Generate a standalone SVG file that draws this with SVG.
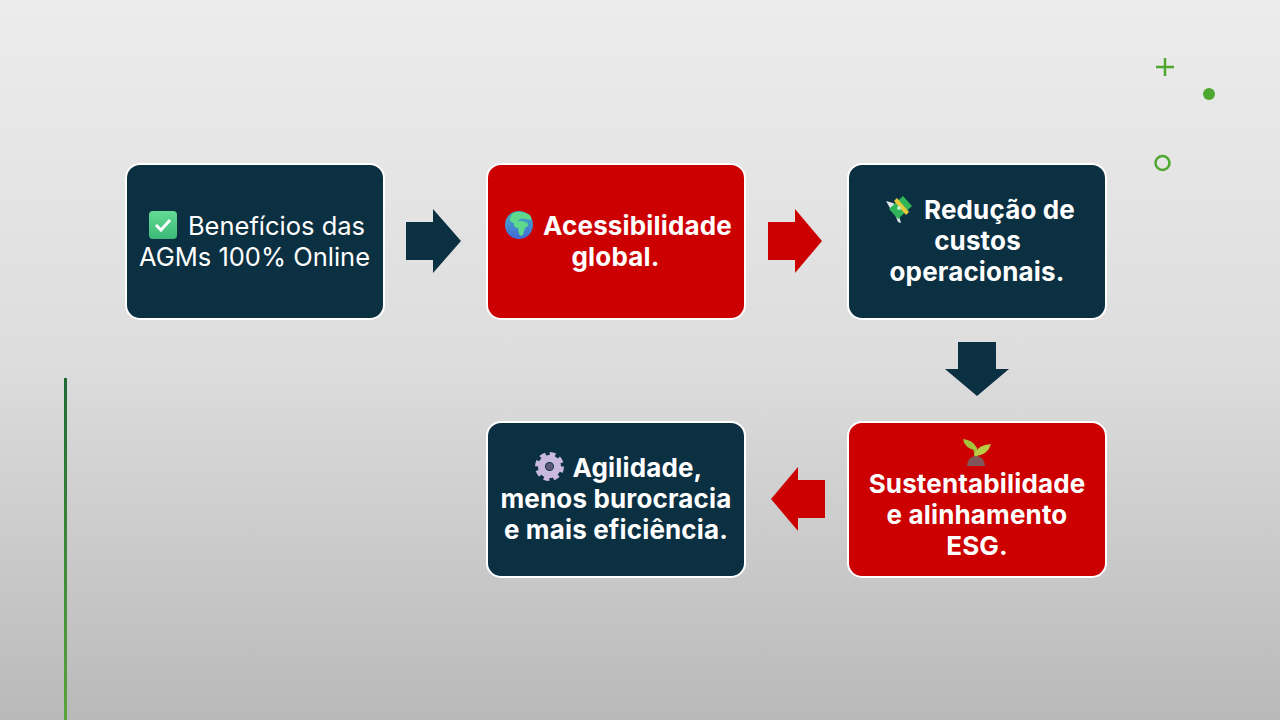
<svg xmlns="http://www.w3.org/2000/svg" width="1280" height="720" viewBox="0 0 1280 720">
<defs>
<linearGradient id="bg" x1="0" y1="0" x2="0" y2="1"><stop offset="0" stop-color="#ececec"/><stop offset="0.5" stop-color="#dddddd"/><stop offset="1" stop-color="#b9b9b9"/></linearGradient>
<linearGradient id="ln" x1="0" y1="0" x2="0" y2="1"><stop offset="0" stop-color="#1f6a35"/><stop offset="1" stop-color="#57a63c"/></linearGradient>
<linearGradient id="gl" x1="0" y1="0" x2="0" y2="1"><stop offset="0" stop-color="#3fb0c0"/><stop offset="1" stop-color="#4468d8"/></linearGradient>
<linearGradient id="ck" x1="0" y1="0" x2="0" y2="1"><stop offset="0" stop-color="#62dc94"/><stop offset="1" stop-color="#3cb878"/></linearGradient>
</defs>
<style>
.box{stroke:#fff;stroke-width:2}
.navy{fill:#0b3042}
.red{fill:#cc0000}
text{font-family:"Inter","Liberation Sans",sans-serif;fill:#fff;text-anchor:middle}
.b{font-weight:700;font-size:26px;letter-spacing:.15px}
.r{font-weight:400;font-size:25.500px}
.g{fill:#4ea72e}
</style>
<rect width="1280" height="720" fill="url(#bg)"/>
<g id="decor">
<rect x="64" y="378" width="3" height="342" fill="url(#ln)"/>
<path d="M1165 58v18M1156 67h18" stroke="#4ea72e" stroke-width="2.500" fill="none"/>
<circle cx="1209" cy="94" r="6" class="g"/>
<circle cx="1162.500" cy="163" r="7" fill="none" stroke="#4ea72e" stroke-width="2.500"/>
</g>
<g id="connectors">
<polygon class="navy" points="406,222 433,222 433,209 461,241 433,273 433,260 406,260"/>
<polygon class="red" points="768,222 795,222 795,209 822,241 795,273 795,260 768,260"/>
<polygon class="navy" points="958,342 996,342 996,369 1009,369 977,396 945,369 958,369"/>
<polygon class="red" points="825,480 798,480 798,467 771,499 798,531 798,518 825,518"/>
</g>
<g id="node1">
<rect class="box navy" x="126" y="164" width="258" height="155" rx="14"/>
<rect x="149" y="211" width="28" height="28" rx="4" fill="url(#ck)"/>
<path d="M156 225l5 5 9-10" fill="none" stroke="#fff" stroke-width="3"/>
<text class="r" x="276.500" y="235">Benefícios das</text>
<text class="r" x="254.500" y="266">AGMs 100% Online</text>
</g>
<g id="node2">
<rect class="box red" x="487" y="164" width="258" height="155" rx="14"/>
<circle cx="519" cy="225" r="14" fill="url(#gl)"/>
<path d="M513 213q8-3 17 2q2 3 1 5l-5-1q-7-2-8 3l-5 1q-4-2-3-5z" fill="#5ed88c"/>
<path d="M514 222q7-2 11 0q4 1 3 4l-3 2-2 7q-3 2-4-1l-1-6q-5 0-4-6z" fill="#5ed88c"/>
<text class="b" x="637.500" y="235">Acessibilidade</text>
<text class="b" x="615.500" y="266">global.</text>
</g>
<g id="node3">
<rect class="box navy" x="848" y="164" width="258" height="155" rx="14"/>
<path d="M886 201l7 2 5 3-1 3 4 14-3-1-4-10-4-4z" fill="#dfe6e6"/>
<path d="M889 209l14-13 9 10-14 13z" fill="#2fb457"/>
<path d="M894 201l12 14 3-3-12-14z" fill="#e8c93c"/>
<circle cx="899" cy="208" r="2" fill="#bff0cc"/>
<text class="b" x="999.500" y="219">Redução de</text>
<text class="b" x="977.500" y="250">custos</text>
<text class="b" x="977" y="281">operacionais.</text>
</g>
<g id="node4">
<rect class="box red" x="848" y="422" width="258" height="155" rx="14"/>
<path d="M976 458q0-6-1-9" stroke="#a4b83a" stroke-width="3.500" fill="none"/>
<path d="M977 448q-4-8-14-9q1 9 14 12z" fill="#a4c43c"/>
<path d="M975 453q3-8 16-9q-3 11-16 12z" fill="#b8cc46"/>
<path d="M967 466q1-10 9-10t9 10z" fill="#80565a"/>
<text class="b" x="977" y="493">Sustentabilidade</text>
<text class="b" x="977" y="524">e alinhamento</text>
<text class="b" x="977" y="555">ESG.</text>
</g>
<g id="node5">
<rect class="box navy" x="487" y="422" width="258" height="155" rx="14"/>
<circle cx="549.500" cy="466.500" r="8" fill="none" stroke="#c9b9de" stroke-width="7"/>
<circle cx="549.500" cy="466.500" r="12" fill="none" stroke="#c9b9de" stroke-width="5" stroke-dasharray="5.500 3.900"/>
<circle cx="549.500" cy="466.500" r="3.500" fill="#5d5a78"/>
<text class="b" x="637.500" y="477">Agilidade,</text>
<text class="b" x="616" y="508">menos burocracia</text>
<text class="b" x="616" y="539">e mais eficiência.</text>
</g>
</svg>
